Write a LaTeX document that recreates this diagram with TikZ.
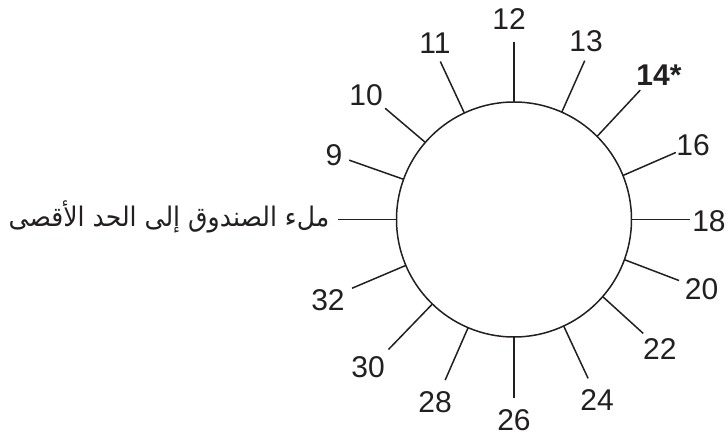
\documentclass[tikz,border=0pt]{standalone}
\usepackage{fontspec}
\setmainfont{Liberation Sans}
\newfontfamily\arabicfont[Script=Arabic,FakeStretch=0.93]{DejaVu Sans}
\TeXXeTstate=1
\usepackage{xcolor}
\definecolor{ink}{HTML}{231F20}

\begin{document}
\begin{tikzpicture}[x=1pt,y=1pt,line width=1.5pt,draw=ink,
  num/.style={font=\fontsize{30}{36}\selectfont,inner sep=0pt,text=ink}]
\useasboundingbox (-514,-218.5) rectangle (213,219.5);
\node[circle,draw,minimum size=235pt,inner sep=0pt,outer sep=0pt] (dial) at (0,0) {};
% tick ends
\coordinate (t9) at (160.2:175.1);
\coordinate (t10) at (139.2:170.2);
\coordinate (t11) at (115:174.3);
\coordinate (t12) at (90:177.5);
\coordinate (t13) at (66:173.9);
\coordinate (t14) at (45.7:180.7);
\coordinate (t16) at (22.5:175.2);
\coordinate (t18) at (0:176);
\coordinate (t20) at (-20.3:176);
\coordinate (t22) at (-41.4:172.2);
\coordinate (t24) at (-65:175.3);
\coordinate (t26) at (-90:178.5);
\coordinate (t28) at (-113.2:174.7);
\coordinate (t30) at (-134:180.7);
\coordinate (t32) at (-157:175.9);
\coordinate (tmax) at (180:176);
% labels
\node[num] (n9) at (160.3:191.2) {9};
\node[num] (n10) at (139.9:193.4) {10};
\node[num] (n11) at (114.1:193.4) {11};
\node[num] (n12) at (91.4:200.6) {12};
\node[num] (n13) at (68:192.5) {13};
\node[num,font=\fontsize{30}{36}\selectfont\bfseries] (n14) at (44.9:204.7) {14*};
\node[num] (n16) at (22.6:193.9) {16};
\node[num] (n18) at (-0.4:195) {18};
\node[num] (n20) at (-20.3:200) {20};
\node[num] (n22) at (-41.5:194.8) {22};
\node[num] (n24) at (-65.3:198.7) {24};
\node[num] (n26) at (-90:200.5) {26};
\node[num] (n28) at (-113.4:198.9) {28};
\node[num] (n30) at (-134.7:207.5) {30};
\node[num] (n32) at (-156.6:202.7) {32};
\node[anchor=base east,inner sep=0pt,text=ink,font=\arabicfont\fontsize{27}{32}\selectfont] (nmax) at (-184,-7) {\beginR ملء الصندوق إلى الحد الأقصى\endR};
% ticks
\draw (dial.160.2) -- (t9);
\draw (dial.139.2) -- (t10);
\draw (dial.115) -- (t11);
\draw (dial.90) -- (t12);
\draw (dial.66) -- (t13);
\draw (dial.45.7) -- (t14);
\draw (dial.22.5) -- (t16);
\draw (dial.0) -- (t18);
\draw (dial.-20.3) -- (t20);
\draw (dial.-41.4) -- (t22);
\draw (dial.-65) -- (t24);
\draw (dial.-90) -- (t26);
\draw (dial.-113.2) -- (t28);
\draw (dial.-134) -- (t30);
\draw (dial.-157) -- (t32);
\draw (dial.180) -- (tmax);
\end{tikzpicture}
\end{document}
